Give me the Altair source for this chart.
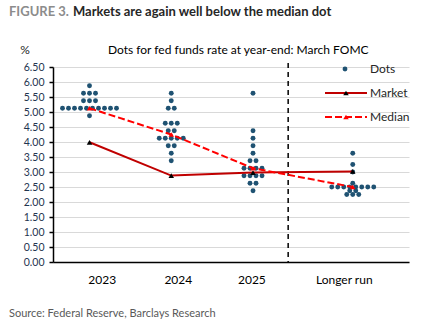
import altair as alt
import pandas as pd

# ---------------- data ----------------
categories = ["2023", "2024", "2025", "Longer run"]

dots_2023 = [4.875,
             5.125, 5.125, 5.125, 5.125, 5.125, 5.125, 5.125, 5.125, 5.125, 5.125,
             5.375, 5.375, 5.375,
             5.625, 5.625, 5.625,
             5.875]
dots_2024 = [3.375, 3.625, 3.875, 3.875,
             4.125, 4.125, 4.125, 4.125, 4.125,
             4.375, 4.375,
             4.625, 4.625, 4.625,
             5.125, 5.125, 5.375, 5.625]
dots_2025 = [2.375, 2.625, 2.625,
             2.875, 2.875, 2.875, 2.875,
             3.125, 3.125, 3.125, 3.125,
             3.375, 3.375, 3.625, 3.875, 4.125, 4.375, 5.625]
dots_longer = [2.25, 2.25, 2.25, 2.375, 2.375,
               2.5, 2.5, 2.5, 2.5, 2.5, 2.5, 2.5, 2.5,
               2.625, 3.0, 3.25, 3.625]

market = [3.99, 2.88, 2.98, 3.02]
median = [5.125, 4.25, 3.125, 2.5]

y_ticks = [0.0, 0.5, 1.0, 1.5, 2.0, 2.5, 3.0, 3.5, 4.0, 4.5, 5.0, 5.5, 6.0, 6.5]

title_lead = "FIGURE 3."
title_main = "Markets are again well below the median dot"
subtitle = "Dots for fed funds rate at year-end: March FOMC"
unit_label = "%"
source = "Source: Federal Reserve, Barclays Research"
legend_labels = ["Dots", "Market", "Median"]

# ---------------- layout ----------------
FONT = "Lato"
W, H = 356, 195
cat_pos = [1.0, 2.0, 3.0, 4.22]
label_pos = [1.15, 2.08, 2.98, 4.11]
divider_pos = 3.43
dot_step = 0.0734
x_domain = [0.5535, 4.908]

DOT_COLOR = "#1F5272"
MARKET_COLOR = "#C00000"
MEDIAN_COLOR = "#FF0000"

rows = []
for cat, pos, vals in zip(categories, cat_pos, [dots_2023, dots_2024, dots_2025, dots_longer]):
    counts = {}
    for v in vals:
        counts[v] = counts.get(v, 0) + 1
    seen = {}
    for v in vals:
        i = seen.get(v, 0)
        seen[v] = i + 1
        rows.append({"category": cat, "x": pos + (i - (counts[v] - 1) / 2) * dot_step, "rate": v})
dots_df = pd.DataFrame(rows)
lines_df = pd.DataFrame({"category": categories, "x": cat_pos, "market": market, "median": median})

label_expr = " : ".join(
    f"abs(datum.value - {p}) < 0.01 ? '{c}'" for p, c in zip(label_pos, categories)
) + " : ''"

xscale = alt.Scale(domain=x_domain, nice=False, zero=False)
yscale = alt.Scale(domain=[0, 6.5], nice=False, zero=True)

xaxis = alt.Axis(values=label_pos, labelExpr=label_expr, ticks=False, grid=False,
                 domainColor="#000000", domainWidth=1.5, labelFont=FONT, labelFontSize=12,
                 labelColor="#000000", labelPadding=12, labelAngle=0, title=None)
yaxis = alt.Axis(values=y_ticks, format=".2f", grid=True, gridColor="#D9D9D9", gridWidth=1,
                 domainColor="#000000", domainWidth=1.5, tickColor="#000000", tickSize=4,
                 tickWidth=1.5, labelPadding=5, labelFont=FONT, labelFontSize=10.5,
                 labelColor="#1F3550", title=None)

X = alt.X("x:Q", scale=xscale, axis=xaxis)

dots = alt.Chart(dots_df).mark_circle(size=24, color=DOT_COLOR, opacity=1).encode(
    x=X, y=alt.Y("rate:Q", scale=yscale, axis=yaxis)
)

market_line = alt.Chart(lines_df).mark_line(color=MARKET_COLOR, strokeWidth=2).encode(
    x=X, y=alt.Y("market:Q", scale=yscale, axis=yaxis)
)
market_pts = alt.Chart(lines_df).mark_point(shape="triangle-up", filled=True, size=30,
                                            color="#000000", opacity=1).encode(
    x=X, y=alt.Y("market:Q", scale=yscale, axis=yaxis)
)
median_line = alt.Chart(lines_df).mark_line(color=MEDIAN_COLOR, strokeWidth=2,
                                            strokeDash=[7, 3]).encode(
    x=X, y=alt.Y("median:Q", scale=yscale, axis=yaxis)
)
median_pts = alt.Chart(lines_df).mark_point(shape="triangle-up", filled=True, size=30,
                                            color=MEDIAN_COLOR, opacity=1).encode(
    x=X, y=alt.Y("median:Q", scale=yscale, axis=yaxis)
)

divider = alt.Chart(pd.DataFrame({"x": [divider_pos]})).mark_rule(
    color="#000000", strokeWidth=1.5, strokeDash=[5, 4]
).encode(x=X, y=alt.value(-4), y2=alt.value(H))

one = pd.DataFrame({"a": [0]})


def txt(text, x, y, size, color, weight="normal", align="left", baseline="middle"):
    return alt.Chart(one).mark_text(text=text, font=FONT, fontSize=size, color=color,
                                    fontWeight=weight, align=align, baseline=baseline).encode(
        x=alt.value(x), y=alt.value(y))


texts = [
    txt(title_lead, -44, -51, 13, "#8C8C8C", "bold", baseline="alphabetic"),
    txt(title_main, 20, -51, 13, "#262626", "bold", baseline="alphabetic"),
    txt(unit_label, -28, -17, 12, "#262626", align="center"),
    txt(subtitle, 55, -17, 12, "#000000"),
    txt(source, -44, 247, 11, "#595959"),
    txt(legend_labels[0], 317, 2, 12, "#262626"),
    txt(legend_labels[1], 317, 26, 12, "#262626"),
    txt(legend_labels[2], 317, 50, 12, "#262626"),
]

leg_dot = alt.Chart(one).mark_circle(size=24, color=DOT_COLOR, opacity=1).encode(
    x=alt.value(292), y=alt.value(2))
leg_market = alt.Chart(one).mark_rule(color=MARKET_COLOR, strokeWidth=2).encode(
    x=alt.value(272), x2=alt.value(314), y=alt.value(26))
leg_market_pt = alt.Chart(one).mark_point(shape="triangle-up", filled=True, size=30,
                                          color="#000000", opacity=1).encode(
    x=alt.value(293), y=alt.value(26))
leg_median = alt.Chart(one).mark_rule(color=MEDIAN_COLOR, strokeWidth=2, strokeDash=[7, 3]).encode(
    x=alt.value(272), x2=alt.value(314), y=alt.value(50))
leg_median_pt = alt.Chart(one).mark_point(shape="triangle-up", filled=True, size=30,
                                          color=MEDIAN_COLOR, opacity=1).encode(
    x=alt.value(293), y=alt.value(50))

chart = alt.layer(
    dots, divider, market_line, median_line, market_pts, median_pts,
    leg_dot, leg_market, leg_market_pt, leg_median, leg_median_pt, *texts
).properties(
    width=W, height=H,
    autosize=alt.AutoSizeParams(type="none"),
    padding={"left": 53, "top": 67, "right": 13, "bottom": 65},
    background="white",
).configure_view(stroke=None)

chart.save("out.html", embed_options={"renderer": "svg", "actions": False})
